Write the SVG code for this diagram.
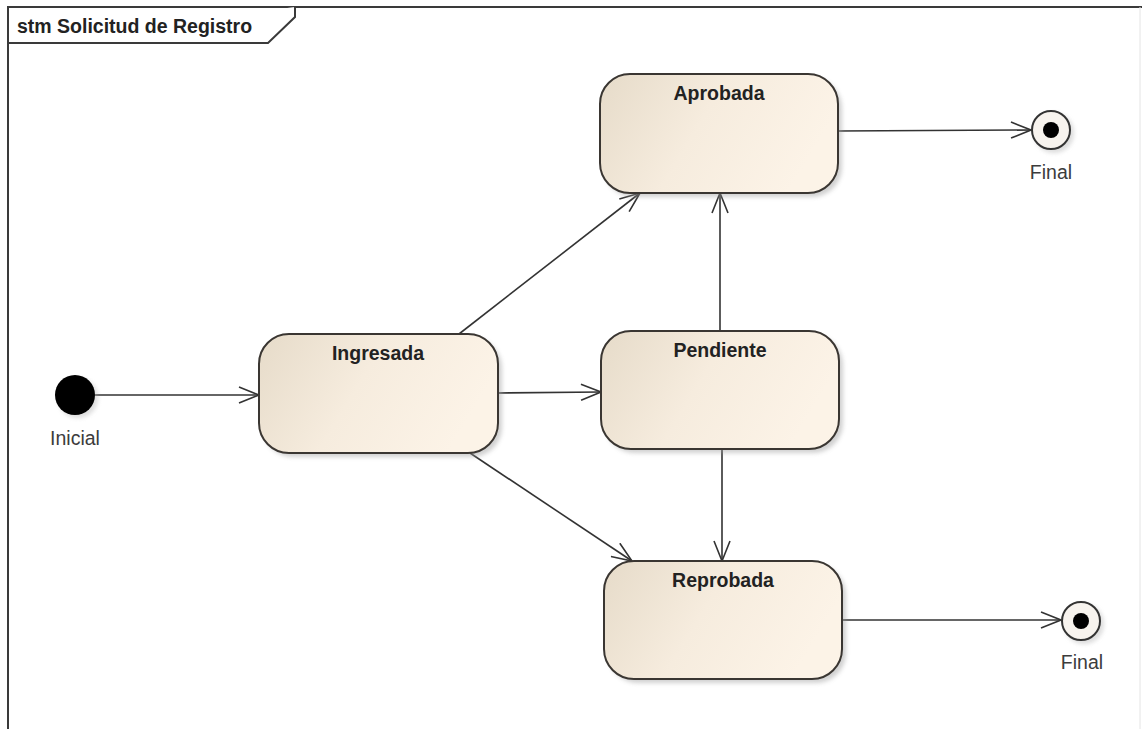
<svg xmlns="http://www.w3.org/2000/svg" width="1142" height="729" viewBox="0 0 1142 729">
  <style>
    .state { fill: url(#stateFill); stroke: #3a3632; stroke-width: 2; }
    .shadow { fill: #9a9a9a; opacity: 0.45; filter: url(#soft); }
    .title { font-family: "Liberation Sans", Arial, sans-serif; font-size: 19.5px; font-weight: bold; fill: #222; text-anchor: middle; }
    .lbl { font-family: "Liberation Sans", Arial, sans-serif; font-size: 19.5px; fill: #3c3c3c; text-anchor: middle; }
    .edge { fill: none; stroke: #333; stroke-width: 1.6; marker-end: url(#open); }
    .frame { fill: none; stroke: #3a3a3a; stroke-width: 2; }
  </style>
  <defs>
    <linearGradient id="stateFill" x1="0" y1="0" x2="1" y2="0.3">
      <stop offset="0" stop-color="#e6dbc9"/>
      <stop offset="0.5" stop-color="#f6ecde"/>
      <stop offset="1" stop-color="#fcf3e7"/>
    </linearGradient>
    <filter id="soft" x="-10%" y="-10%" width="120%" height="120%">
      <feGaussianBlur stdDeviation="2"/>
    </filter>
    <marker id="open" viewBox="0 0 22 18" refX="21" refY="9" markerWidth="22" markerHeight="18" markerUnits="userSpaceOnUse" orient="auto">
      <path d="M1,1 L21,9 L1,17" fill="none" stroke="#333" stroke-width="1.6"/>
    </marker>
  </defs>

  <rect width="1142" height="729" fill="#ffffff"/>

  <!-- diagram frame with name tab -->
  <g id="frame">
    <path class="frame" d="M8,729 V7 H1142"/>
    <path d="M1140,7 V729" stroke="#e4e4e4" stroke-width="1" fill="none"/>
    <path d="M8,43 H268 L295,17 V7" fill="#ffffff" stroke="#3a3a3a" stroke-width="2"/>
    <text x="17" y="33" font-family="Liberation Sans, Arial, sans-serif" font-size="19.5" font-weight="bold" fill="#222">stm Solicitud de Registro</text>
  </g>

  <!-- transitions -->
  <g id="connectors">
    <line class="edge" x1="95" y1="395" x2="259" y2="395"/>
    <line class="edge" x1="459" y1="334" x2="640" y2="193"/>
    <line class="edge" x1="498" y1="393" x2="601" y2="392"/>
    <line class="edge" x1="470" y1="453" x2="632" y2="561"/>
    <line class="edge" x1="720" y1="331" x2="720" y2="193"/>
    <line class="edge" x1="722" y1="449" x2="722" y2="561"/>
    <line class="edge" x1="838" y1="131" x2="1031" y2="130"/>
    <line class="edge" x1="842" y1="620" x2="1061" y2="620"/>
  </g>

  <g id="inicial">
    <circle cx="78" cy="398" r="20" fill="#aaaaaa" opacity="0.4" filter="url(#soft)"/>
    <circle cx="75" cy="395" r="20" fill="#000000"/>
    <text class="lbl" x="75" y="445">Inicial</text>
  </g>

  <g id="ingresada">
    <rect class="shadow" x="263" y="338" width="239" height="119" rx="30"/>
    <rect class="state" x="259" y="334" width="239" height="119" rx="30"/>
    <text class="title" x="378" y="360">Ingresada</text>
  </g>

  <g id="aprobada">
    <rect class="shadow" x="604" y="78" width="238" height="119" rx="30"/>
    <rect class="state" x="600" y="74" width="238" height="119" rx="30"/>
    <text class="title" x="719" y="100">Aprobada</text>
  </g>

  <g id="pendiente">
    <rect class="shadow" x="605" y="335" width="238" height="118" rx="30"/>
    <rect class="state" x="601" y="331" width="238" height="118" rx="30"/>
    <text class="title" x="720" y="357">Pendiente</text>
  </g>

  <g id="reprobada">
    <rect class="shadow" x="608" y="565" width="238" height="118" rx="30"/>
    <rect class="state" x="604" y="561" width="238" height="118" rx="30"/>
    <text class="title" x="723" y="587">Reprobada</text>
  </g>

  <g id="final1">
    <circle cx="1054" cy="133" r="20" fill="#aaaaaa" opacity="0.4" filter="url(#soft)"/>
    <circle cx="1051" cy="130" r="19" fill="#f7f3ee" stroke="#333" stroke-width="2"/>
    <circle cx="1051" cy="130" r="8" fill="#000000"/>
    <text class="lbl" x="1051" y="179">Final</text>
  </g>

  <g id="final2">
    <circle cx="1084" cy="624" r="20" fill="#aaaaaa" opacity="0.4" filter="url(#soft)"/>
    <circle cx="1081" cy="621" r="19" fill="#f7f3ee" stroke="#333" stroke-width="2"/>
    <circle cx="1081" cy="621" r="8" fill="#000000"/>
    <text class="lbl" x="1082" y="669">Final</text>
  </g>
</svg>
